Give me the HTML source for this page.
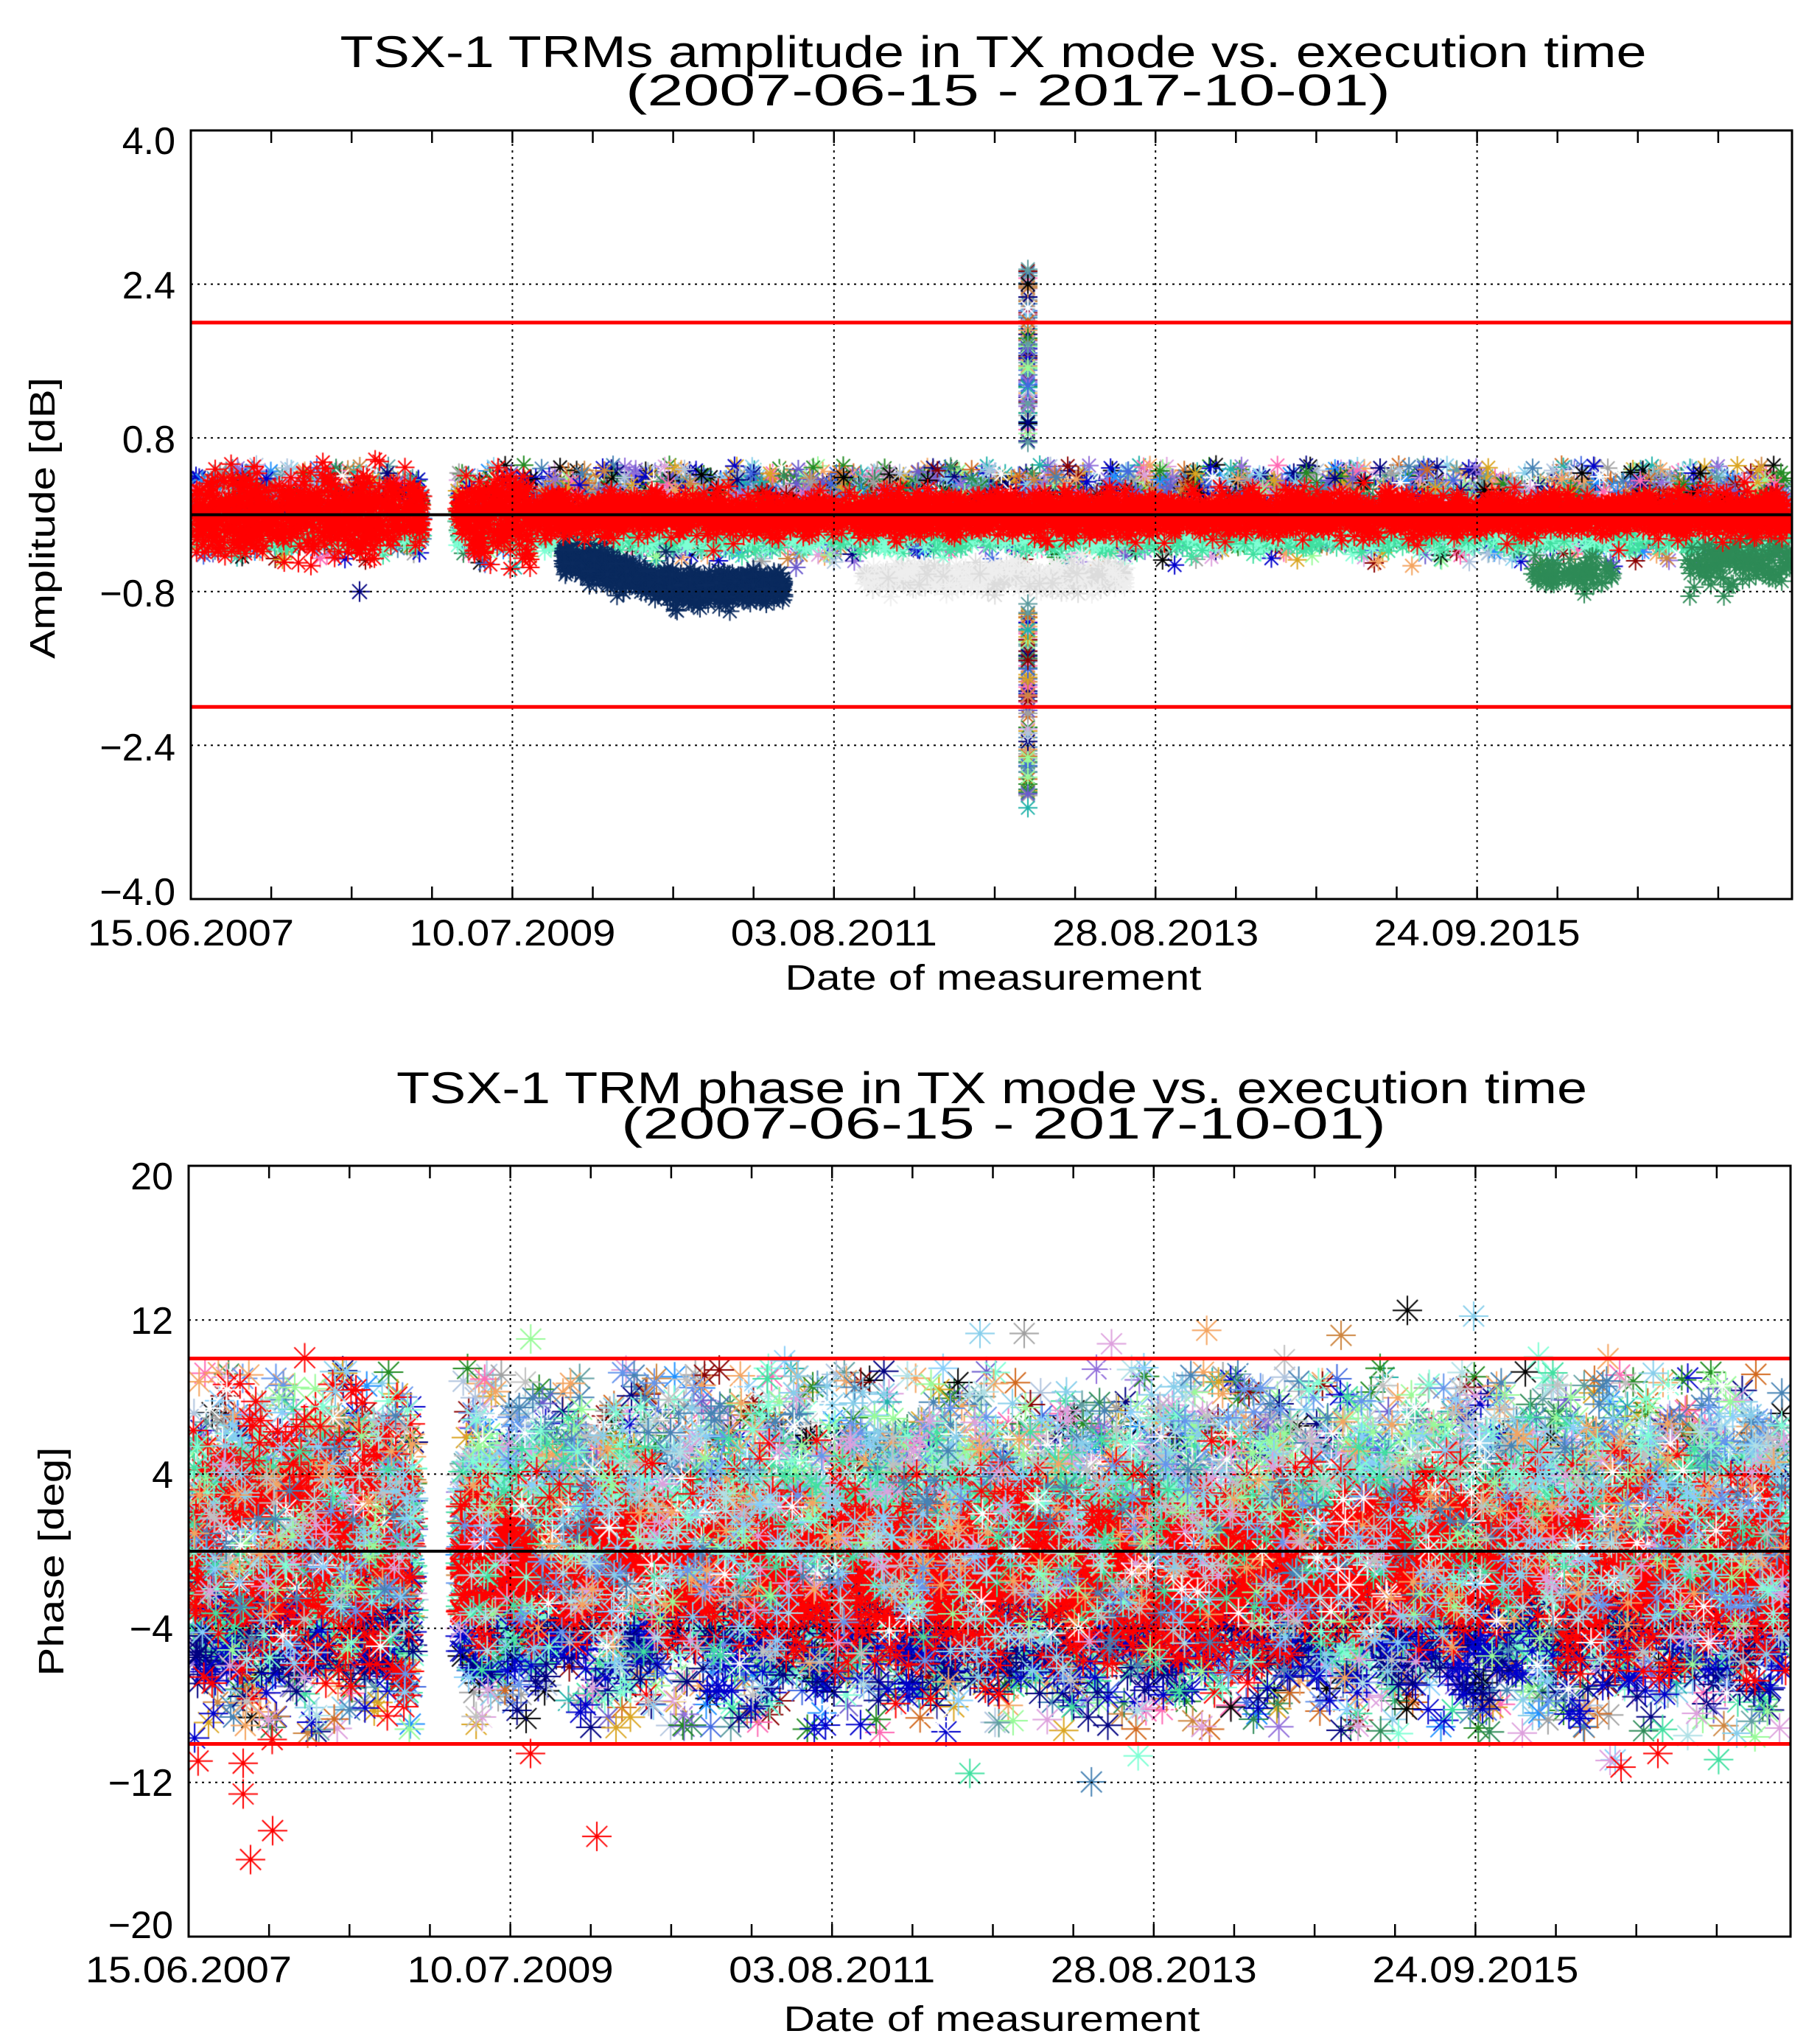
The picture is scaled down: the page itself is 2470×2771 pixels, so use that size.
<!DOCTYPE html>
<html><head><meta charset="utf-8">
<style>
html,body{margin:0;padding:0;background:#fff;}
#wrap{position:relative;width:2470px;height:2771px;overflow:hidden;background:#fff;}
canvas,svg{position:absolute;left:0;top:0;}
text{font-family:"Liberation Sans",sans-serif;fill:#000;}
</style></head><body>
<div id="wrap">
<canvas id="c" width="2470" height="2771"></canvas>
<svg id="s" width="2470" height="2771" viewBox="0 0 2470 2771" xmlns="http://www.w3.org/2000/svg">
<g id="axes" stroke="#000" fill="none"></g>
<text x="1348" y="91" font-size="60" text-anchor="middle" textLength="1773" lengthAdjust="spacingAndGlyphs">TSX-1 TRMs amplitude in TX mode vs. execution time</text>
<text x="1368" y="143" font-size="60" text-anchor="middle" textLength="1038" lengthAdjust="spacingAndGlyphs">(2007-06-15 - 2017-10-01)</text>
<text x="1346" y="1497" font-size="60" text-anchor="middle" textLength="1616" lengthAdjust="spacingAndGlyphs">TSX-1 TRM phase in TX mode vs. execution time</text>
<text x="1362" y="1545" font-size="60" text-anchor="middle" textLength="1038" lengthAdjust="spacingAndGlyphs">(2007-06-15 - 2017-10-01)</text>
<text font-size="52" text-anchor="end" x="238" y="209">4.0</text>
<text font-size="52" text-anchor="end" x="238" y="405">2.4</text>
<text font-size="52" text-anchor="end" x="238" y="614">0.8</text>
<text font-size="52" text-anchor="end" x="238" y="823">−0.8</text>
<text font-size="52" text-anchor="end" x="238" y="1032">−2.4</text>
<text font-size="52" text-anchor="end" x="238" y="1228">−4.0</text>
<text font-size="52" text-anchor="end" x="235" y="1614">20</text>
<text font-size="52" text-anchor="end" x="235" y="1810">12</text>
<text font-size="52" text-anchor="end" x="235" y="2019">4</text>
<text font-size="52" text-anchor="end" x="235" y="2228">−4</text>
<text font-size="52" text-anchor="end" x="235" y="2437">−12</text>
<text font-size="52" text-anchor="end" x="235" y="2630">−20</text>
<g id="dates"></g>
<text x="1348" y="1343" font-size="48" text-anchor="middle" textLength="565" lengthAdjust="spacingAndGlyphs">Date of measurement</text>
<text x="1346" y="2756" font-size="48" text-anchor="middle" textLength="565" lengthAdjust="spacingAndGlyphs">Date of measurement</text>
<text transform="translate(74,703) rotate(-90)" font-size="48" text-anchor="middle" textLength="382" lengthAdjust="spacingAndGlyphs">Amplitude [dB]</text>
<text transform="translate(86,2119) rotate(-90)" font-size="48" text-anchor="middle" textLength="311" lengthAdjust="spacingAndGlyphs">Phase [deg]</text>
</svg>
</div>
<script>
(function(){
var NS="http://www.w3.org/2000/svg";
var ax=document.getElementById('axes');
function el(n,a,p){var e=document.createElementNS(NS,n);for(var k in a)e.setAttribute(k,a[k]);(p||ax).appendChild(e);return e;}
var P=[{l:259,r:2432,t:177,b:1220,ymax:4,ymin:-4,grid:[2.4,0.8,-0.8,-2.4],red:2.0,db:1283,g0:574,g1:620},
       {l:256,r:2430,t:1582,b:2628,ymax:20,ymin:-20,grid:[12,4,-4,-12],red:10,db:2690,g0:562,g1:624}];
var dates=["15.06.2007","10.07.2009","03.08.2011","28.08.2013","24.09.2015"];
var dg=document.getElementById('dates');
P.forEach(function(p){
  p.Y=function(v){return p.t+(p.ymax-v)/(p.ymax-p.ymin)*(p.b-p.t);};
  var step=(p.r-p.l)*436.4/2173;
  p.grid.forEach(function(v){var y=p.Y(v);el('line',{x1:p.l,x2:p.r,y1:y,y2:y,'stroke-width':2,'stroke-dasharray':'3,6'});});
  for(var k=1;k<=4;k++){var x=p.l+k*step;el('line',{x1:x,x2:x,y1:p.t,y2:p.b,'stroke-width':2,'stroke-dasharray':'3,6'});}
  for(var k=1;k<20;k++){var x=p.l+k*step/4;if(x>=p.r-2)break;
    el('line',{x1:x,x2:x,y1:p.t,y2:p.t+17,'stroke-width':2.5});
    el('line',{x1:x,x2:x,y1:p.b,y2:p.b-17,'stroke-width':2.5});}
  [p.red,-p.red].forEach(function(v){var y=p.Y(v);el('line',{x1:p.l,x2:p.r,y1:y,y2:y,stroke:'#ff0000','stroke-width':5});});
  var y0=p.Y(0);el('line',{x1:p.l,x2:p.r,y1:y0,y2:y0,stroke:'#000','stroke-width':4});
  el('rect',{x:p.l,y:p.t,width:p.r-p.l,height:p.b-p.t,'stroke-width':3});
  for(var k=0;k<5;k++){var t=el('text',{x:p.l+k*step,y:p.db,'font-size':50,'text-anchor':'middle',textLength:280,lengthAdjust:'spacingAndGlyphs'},dg);t.textContent=dates[k];}
});
var c=document.getElementById('c').getContext('2d');
var s=12345;function R(){s|=0;s=s+0x6D2B79F5|0;var t=Math.imul(s^s>>>15,1|s);t=t+Math.imul(t^t>>>7,61|t)^t;return((t^t>>>14)>>>0)/4294967296;}
function G(){var u=R()||1e-9,v=R();return Math.sqrt(-2*Math.log(u))*Math.cos(6.2832*v);}
function star(x,y,r,col,w){c.strokeStyle=col;c.lineWidth=w||2;c.beginPath();
  c.moveTo(x-r,y);c.lineTo(x+r,y);c.moveTo(x,y-r);c.lineTo(x,y+r);
  var d=r*0.707;c.moveTo(x-d,y-d);c.lineTo(x+d,y+d);c.moveTo(x-d,y+d);c.lineTo(x+d,y-d);c.stroke();}
var pal=['#000080','#1e90ff','#4682b4','#9370db','#2e8b57','#d2691e','#000000','#a0a0a0','#ff69b4','#87ceeb','#0000cd','#8b0000','#daa520','#20b2aa','#6a5acd','#ffffff','#b0c4de','#cd853f','#228b22','#4169e1','#f4a460','#98fb98','#dda0dd','#5f9ea0'];
var light=['#87cefa','#6495ed','#40e0a0','#7fffd4','#b0e0e6','#f4a460','#dda0dd','#98fb98','#ffffff','#4682b4','#87ceeb','#c0c0c0'];
function pick(){return pal[Math.floor(R()*pal.length)];}
function pickL(){return light[Math.floor(R()*light.length)];}
function rx(p){var x;do{x=p.l+6+R()*(p.r-p.l-12);}while(x>p.g0&&x<p.g1);return x;}
function clip(p){c.save();c.beginPath();c.rect(p.l,p.t,p.r-p.l,p.b-p.t);c.clip();}
var p=P[0];clip(p);
var i,x,v;
for(i=0;i<8000;i++){x=rx(p);v=0.05+G()*0.2;if(v>0.52)v=0.52-R()*0.1;if(v<-0.55)v=-0.55+R()*0.1;star(x,p.Y(v),13,pick());}
for(i=0;i<2500;i++){x=rx(p);v=-0.18+G()*0.09;star(x,p.Y(v),13,R()<0.5?'#40e0a0':'#7fffd4');}
for(i=0;i<800;i++){x=764+R()*300;var m=-0.45-0.3*Math.min(1,(x-764)/150);v=m+G()*0.08;star(x,p.Y(v),13,'#0a2a5e');}
for(i=0;i<500;i++){x=1170+R()*360;v=-0.65+G()*0.07;star(x,p.Y(v),13,R()<0.7?'#eeeeee':'#dcdcdc');}
for(i=0;i<80;i++){x=2080+R()*110;v=-0.6+G()*0.07;star(x,p.Y(v),13,'#2e8b57');}
for(i=0;i<130;i++){x=2290+R()*140;v=-0.5+G()*0.12;star(x,p.Y(v),13,'#2e8b57');}
for(i=0;i<4500;i++){x=rx(p);var sd=(x<590)?0.2:(x>640&&x<720?0.22:0.1);v=G()*sd;star(x,p.Y(v),13,'#ff0000');}
for(i=0;i<200;i++){v=R()<0.5?0.7+R()*1.9:-0.9-R()*2.1;star(1395,p.Y(v),13,pick());}
star(1395,p.Y(2.4),13,'#000');star(1395,p.Y(-3.05),13,'#20b2aa');star(488,p.Y(-0.8),14,'#000080');
c.restore();
p=P[1];clip(p);
for(i=0;i<8000;i++){x=rx(p);v=G()*3.6;if(v>9.5)v=9.5-R();if(v<-9.5)v=-9.5+R();star(x,p.Y(v),20,pick());}
for(i=0;i<4500;i++){x=rx(p);v=1.5+G()*3;if(v>9.5)v=9.5-R();star(x,p.Y(v),20,pickL());}
for(i=0;i<2500;i++){x=rx(p);v=-1+G()*2.4;star(x,p.Y(v),20,R()<0.6?'#40e0a0':'#7fffd4');}
for(i=0;i<900;i++){x=rx(p);v=-4.5+G()*1.8;star(x,p.Y(v),20,R()<0.5?'#000080':'#0000cd');}
for(i=0;i<3200;i++){x=rx(p);var dense=(x>660&&x<1000)||(x>1820&&x<2120)||(x>1360&&x<1420);v=(dense?-0.3:-1)+G()*(dense?1.9:2.2);if(x<590)v=G()*3.5;star(x,p.Y(v),20,'#ff0000');}
for(i=0;i<1500;i++){x=rx(p);v=G()*3.5;star(x,p.Y(v),20,pickL());}
[[330,-11],[330,-12.6],[340,-16],[370,-14.5],[720,-10.5],[810,-14.8],[1330,11.3],[1390,11.3],[1820,11.2],[1910,12.5],[2000,12.2],[455,8.3],[400,8.5],[2200,-11.2],[2250,-10.5]].forEach(function(q){star(q[0],p.Y(q[1]),20,q[1]<0?'#ff0000':pick());});
c.restore();
})();
</script>
</body></html>
